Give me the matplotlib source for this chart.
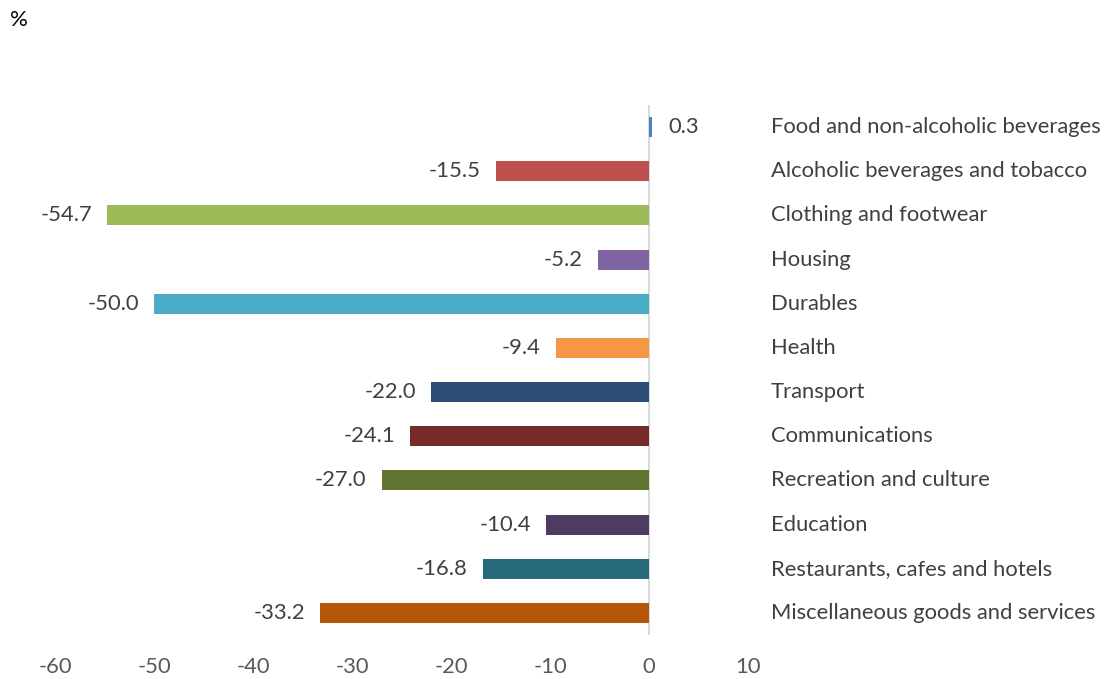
import numpy as np
from matplotlib import pyplot as plt

categories = ['Food and non-alcoholic beverages', 'Alcoholic beverages and tobacco',
              'Clothing and footwear', 'Housing', 'Durables', 'Health', 'Transport',
              'Communications', 'Recreation and culture', 'Education',
              'Restaurants, cafes and hotels', 'Miscellaneous goods and services']
values = [0.3, -15.5, -54.7, -5.2, -50.0, -9.4, -22.0, -24.1, -27.0, -10.4, -16.8, -33.2]
colors = ['#4F81BD', '#C0504D', '#9BBB59', '#8064A2', '#4BACC6', '#F79646',
          '#2C4D75', '#772C2A', '#5F7530', '#4D3B62', '#276A7C', '#B65708']
xticks = [-60, -50, -40, -30, -20, -10, 0, 10]

plt.rcParams['font.family'] = ['Lato', 'DejaVu Sans']
fs = 15.8

fig = plt.figure(figsize=(11.11, 6.79), dpi=100)
ax = fig.add_axes([55 / 1111, 1 - 635 / 679, (748 - 55) / 1111, (635 - 105) / 679])

y = np.arange(len(categories))
ax.barh(y, values, height=0.45, color=colors)
ax.axvline(0, color='#D9D9D9', lw=1.5, zorder=0)

ax.set_xlim(-60, 10)
ax.set_ylim(len(categories) - 0.5, -0.5)
ax.set_xticks(xticks)
ax.set_xticklabels([str(t) for t in xticks], fontsize=fs, color='#595959')
ax.tick_params(axis='x', length=0, pad=16)
ax.set_yticks([])
for s in ax.spines.values():
    s.set_visible(False)

for i, v in enumerate(values):
    if v >= 0:
        ax.annotate(f'{v:.1f}', (v, i), xytext=(12, 0), textcoords='offset points',
                    ha='left', va='center', fontsize=fs, color='#404040')
    else:
        ax.annotate(f'{v:.1f}', (v, i), xytext=(-11, 0), textcoords='offset points',
                    ha='right', va='center', fontsize=fs, color='#404040')
    ax.text(1.033, i, categories[i], transform=ax.get_yaxis_transform(),
            ha='left', va='center', fontsize=fs, color='#404040')

fig.text(10 / 1111, 1 - 20 / 679, '%', ha='left', va='center', fontsize=16, color='black')

fig.savefig('out.png', dpi=100)
